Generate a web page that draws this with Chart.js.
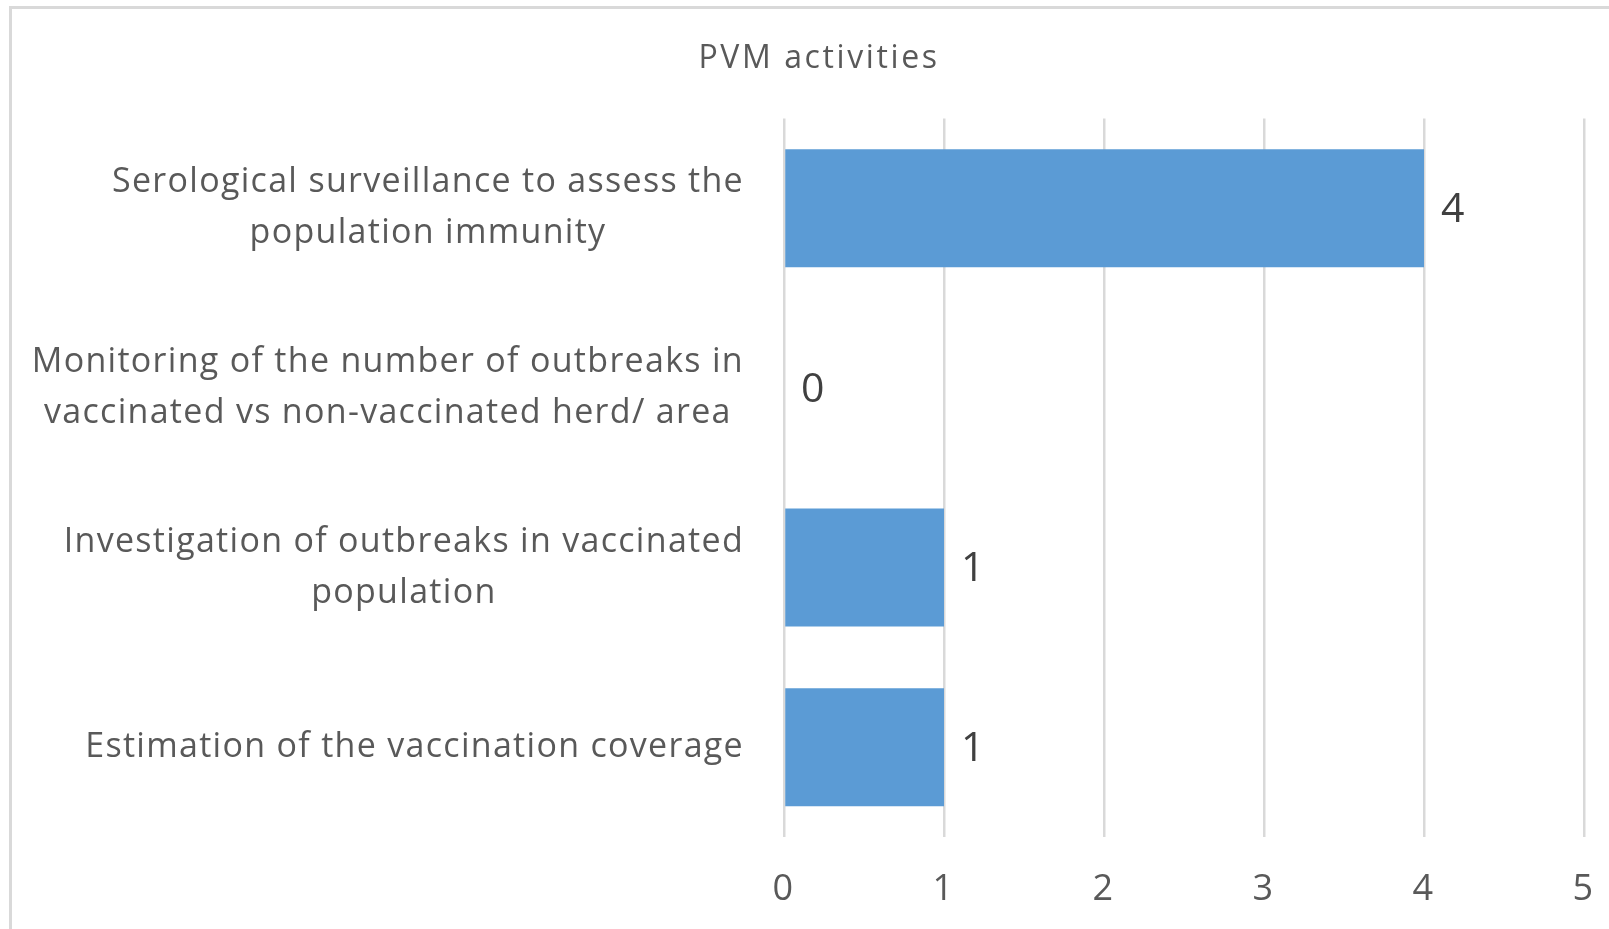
<!DOCTYPE html>
<html lang="en">
<head>
    <meta charset="UTF-8">
    <title>PVM activities</title>
    <script src="https://cdn.jsdelivr.net/npm/chart.js"></script>
    <style>
        html, body {
            margin: 0;
            padding: 0;
            width: 1609px;
            height: 929px;
            background: white;
            overflow: hidden;
        }
        .frame {
            position: absolute;
            left: 9px;
            top: 6px;
            right: 0;
            bottom: 0;
            border-left: 3px solid #d9d9d9;
            border-top: 3px solid #d9d9d9;
        }
        #pvmChart {
            position: absolute;
            left: 0;
            top: 0;
        }
    </style>
</head>
<body>
    <div class="frame"></div>
    <canvas id="pvmChart" width="1609" height="929"></canvas>
    <script>
        // category labels, already split in lines like the original
        const categories = [
            ["Serological surveillance to assess the", "population immunity"],
            ["Monitoring of the number of outbreaks in", "vaccinated vs non-vaccinated herd/ area"],
            ["Investigation of outbreaks in vaccinated", "population"],
            ["Estimation of the vaccination coverage"]
        ];
        const counts = [4, 0, 1, 1];
        const xTicks = [0, 1, 2, 3, 4, 5];

        const textGrey = "#595959";
        const fontFamily = "'Open Sans', sans-serif";

        // the original text is set a little loose
        const looseText = {
            id: "looseText",
            beforeDraw(chart) {
                chart.ctx.letterSpacing = "2.6px";
            }
        };

        // y labels: each block right aligned, lines centred inside the block
        const categoryLabels = {
            id: "categoryLabels",
            afterDraw(chart) {
                const ctx = chart.ctx;
                const yScale = chart.scales.y;
                const right = 744;
                const lineHeight = 51;
                ctx.save();
                ctx.letterSpacing = "1.3px";
                ctx.font = "34px " + fontFamily;
                ctx.fillStyle = textGrey;
                ctx.textAlign = "center";
                ctx.textBaseline = "middle";
                categories.forEach((lines, i) => {
                    const blockW = Math.max(...lines.map(l => ctx.measureText(l).width));
                    const cx = right - blockW / 2;
                    const cy = yScale.getPixelForTick(i);
                    const top = cy - (lines.length - 1) * lineHeight / 2;
                    lines.forEach((l, j) => ctx.fillText(l, cx, top + j * lineHeight));
                });
                ctx.restore();
            }
        };

        const valueLabels = {
            id: "valueLabels",
            afterDatasetsDraw(chart) {
                const ctx = chart.ctx;
                const meta = chart.getDatasetMeta(0);
                ctx.save();
                ctx.font = "41px " + fontFamily;
                ctx.fillStyle = "#404040";
                ctx.textAlign = "left";
                ctx.textBaseline = "middle";
                meta.data.forEach((bar, i) => {
                    ctx.fillText(String(counts[i]), bar.x + 17, bar.y + 2);
                });
                ctx.restore();
            }
        };

        new Chart(document.getElementById("pvmChart"), {
            type: "bar",
            data: {
                labels: categories,
                datasets: [{
                    data: counts,
                    backgroundColor: "#5b9bd5",
                    barPercentage: 0.657,
                    categoryPercentage: 1
                }]
            },
            options: {
                indexAxis: "y",
                responsive: false,
                animation: false,
                events: [],
                layout: {
                    padding: { left: 54, right: 25, top: 0, bottom: 0 }
                },
                plugins: {
                    legend: { display: false },
                    tooltip: { enabled: false },
                    title: {
                        display: true,
                        text: "PVM activities",
                        color: textGrey,
                        font: { family: fontFamily, size: 32, weight: "normal" },
                        padding: { top: 40, bottom: 40 }
                    }
                },
                scales: {
                    x: {
                        min: xTicks[0],
                        max: xTicks[xTicks.length - 1],
                        afterBuildTicks: scale => {
                            scale.ticks = xTicks.map(v => ({ value: v }));
                        },
                        afterFit: scale => {
                            scale.height = 92;
                            scale.paddingLeft = 0;
                            scale.paddingRight = 0;
                        },
                        border: { display: false },
                        grid: {
                            color: "#d9d9d9",
                            lineWidth: 2.5,
                            drawTicks: false
                        },
                        ticks: {
                            color: textGrey,
                            padding: 31.4,
                            font: { family: fontFamily, size: 36 }
                        }
                    },
                    y: {
                        border: { display: false },
                        grid: { display: false },
                        ticks: { display: false },
                        afterFit: scale => {
                            scale.width = 730;
                        }
                    }
                }
            },
            plugins: [looseText, categoryLabels, valueLabels]
        });
    </script>
</body>
</html>
